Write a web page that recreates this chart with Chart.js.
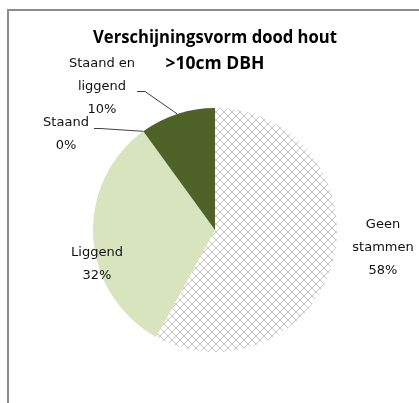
<!DOCTYPE html>
<html>
<head>
<meta charset="utf-8">
<script src="https://cdn.jsdelivr.net/npm/chart.js@4.4.3/dist/chart.umd.min.js"></script>
<style>
  html, body { margin: 0; padding: 0; background: #fff; overflow: hidden; }
  #wrap { position: relative; width: 419px; height: 403px; }
  #frame { position: absolute; left: 7px; top: 9px; width: 600px; height: 600px; border: 2px solid #8c8c8c; box-sizing: border-box; }
  #c { position: absolute; left: 0; top: 0; }
</style>
</head>
<body>
<div id="wrap">
  <div id="frame"></div>
  <canvas id="c" width="419" height="403"></canvas>
</div>
<script>
// Gegevens
const categories = ['Geen stammen', 'Liggend', 'Staand', 'Staand en liggend'];
const values = [58, 32, 0, 10];
const labelLines = [['Geen', 'stammen', '58%'], ['Liggend', '32%'], ['Staand', '0%'], ['Staand en', 'liggend', '10%']];
const titleLines = ['Verschijningsvorm dood hout', '>10cm DBH'];

// Plaatsing van de labels (midden van de eerste regel) en begin van de verbindingslijn
const labelPos = [
  { x: 383, y: 225 },
  { x: 97, y: 253 },
  { x: 66, y: 123 },
  { x: 102, y: 64 },
];
const leaderStart = [null, null, { x: 94, y: 128, x2: 100 }, { x: 137, y: 91, x2: 145 }];

function hatch() {
  const p = document.createElement('canvas');
  p.width = 8; p.height = 8;
  const g = p.getContext('2d');
  g.fillStyle = '#fff';
  g.fillRect(0, 0, 8, 8);
  g.strokeStyle = '#c6c6c6';
  g.lineWidth = 1;
  g.beginPath();
  g.moveTo(0, 0); g.lineTo(8, 8);
  g.moveTo(8, 0); g.lineTo(0, 8);
  g.stroke();
  return document.getElementById('c').getContext('2d').createPattern(p, 'repeat');
}

const pieLabels = {
  id: 'pieLabels',
  afterDraw(chart) {
    const ctx = chart.ctx;
    const arcs = chart.getDatasetMeta(0).data;
    ctx.save();
    ctx.font = '13px "DejaVu Sans"';
    ctx.fillStyle = '#111';
    ctx.textAlign = 'center';
    ctx.textBaseline = 'middle';
    labelLines.forEach((lines, i) => {
      lines.forEach((t, j) => ctx.fillText(t, labelPos[i].x, labelPos[i].y + j * 23));
    });
    ctx.strokeStyle = '#404040';
    ctx.lineWidth = 1;
    leaderStart.forEach((s, i) => {
      if (!s) return;
      const a = arcs[i];
      const mid = (a.startAngle + a.endAngle) / 2;
      ctx.beginPath();
      ctx.moveTo(s.x, s.y + 0.5);
      ctx.lineTo(s.x2, s.y + 0.5);
      ctx.lineTo(a.x + Math.cos(mid) * a.outerRadius, a.y + Math.sin(mid) * a.outerRadius);
      ctx.stroke();
    });
    ctx.restore();
  }
};

new Chart(document.getElementById('c'), {
  type: 'pie',
  data: {
    labels: categories,
    datasets: [{
      data: values,
      backgroundColor: [hatch(), '#d7e4bd', '#c3d69b', '#4f6228'],
      borderWidth: 0,
    }]
  },
  options: {
    responsive: false,
    animation: false,
    layout: { padding: { left: 93, right: 82, top: 10, bottom: 51 } },
    plugins: {
      legend: { display: false },
      tooltip: { enabled: false },
      title: {
        display: true,
        text: titleLines,
        color: '#000',
        font: { family: '"Open Sans"', size: 17.5, weight: 'bold', lineHeight: '26px' },
        padding: { top: 15, bottom: 31 },
      },
    }
  },
  plugins: [pieLabels]
});
</script>
</body>
</html>
